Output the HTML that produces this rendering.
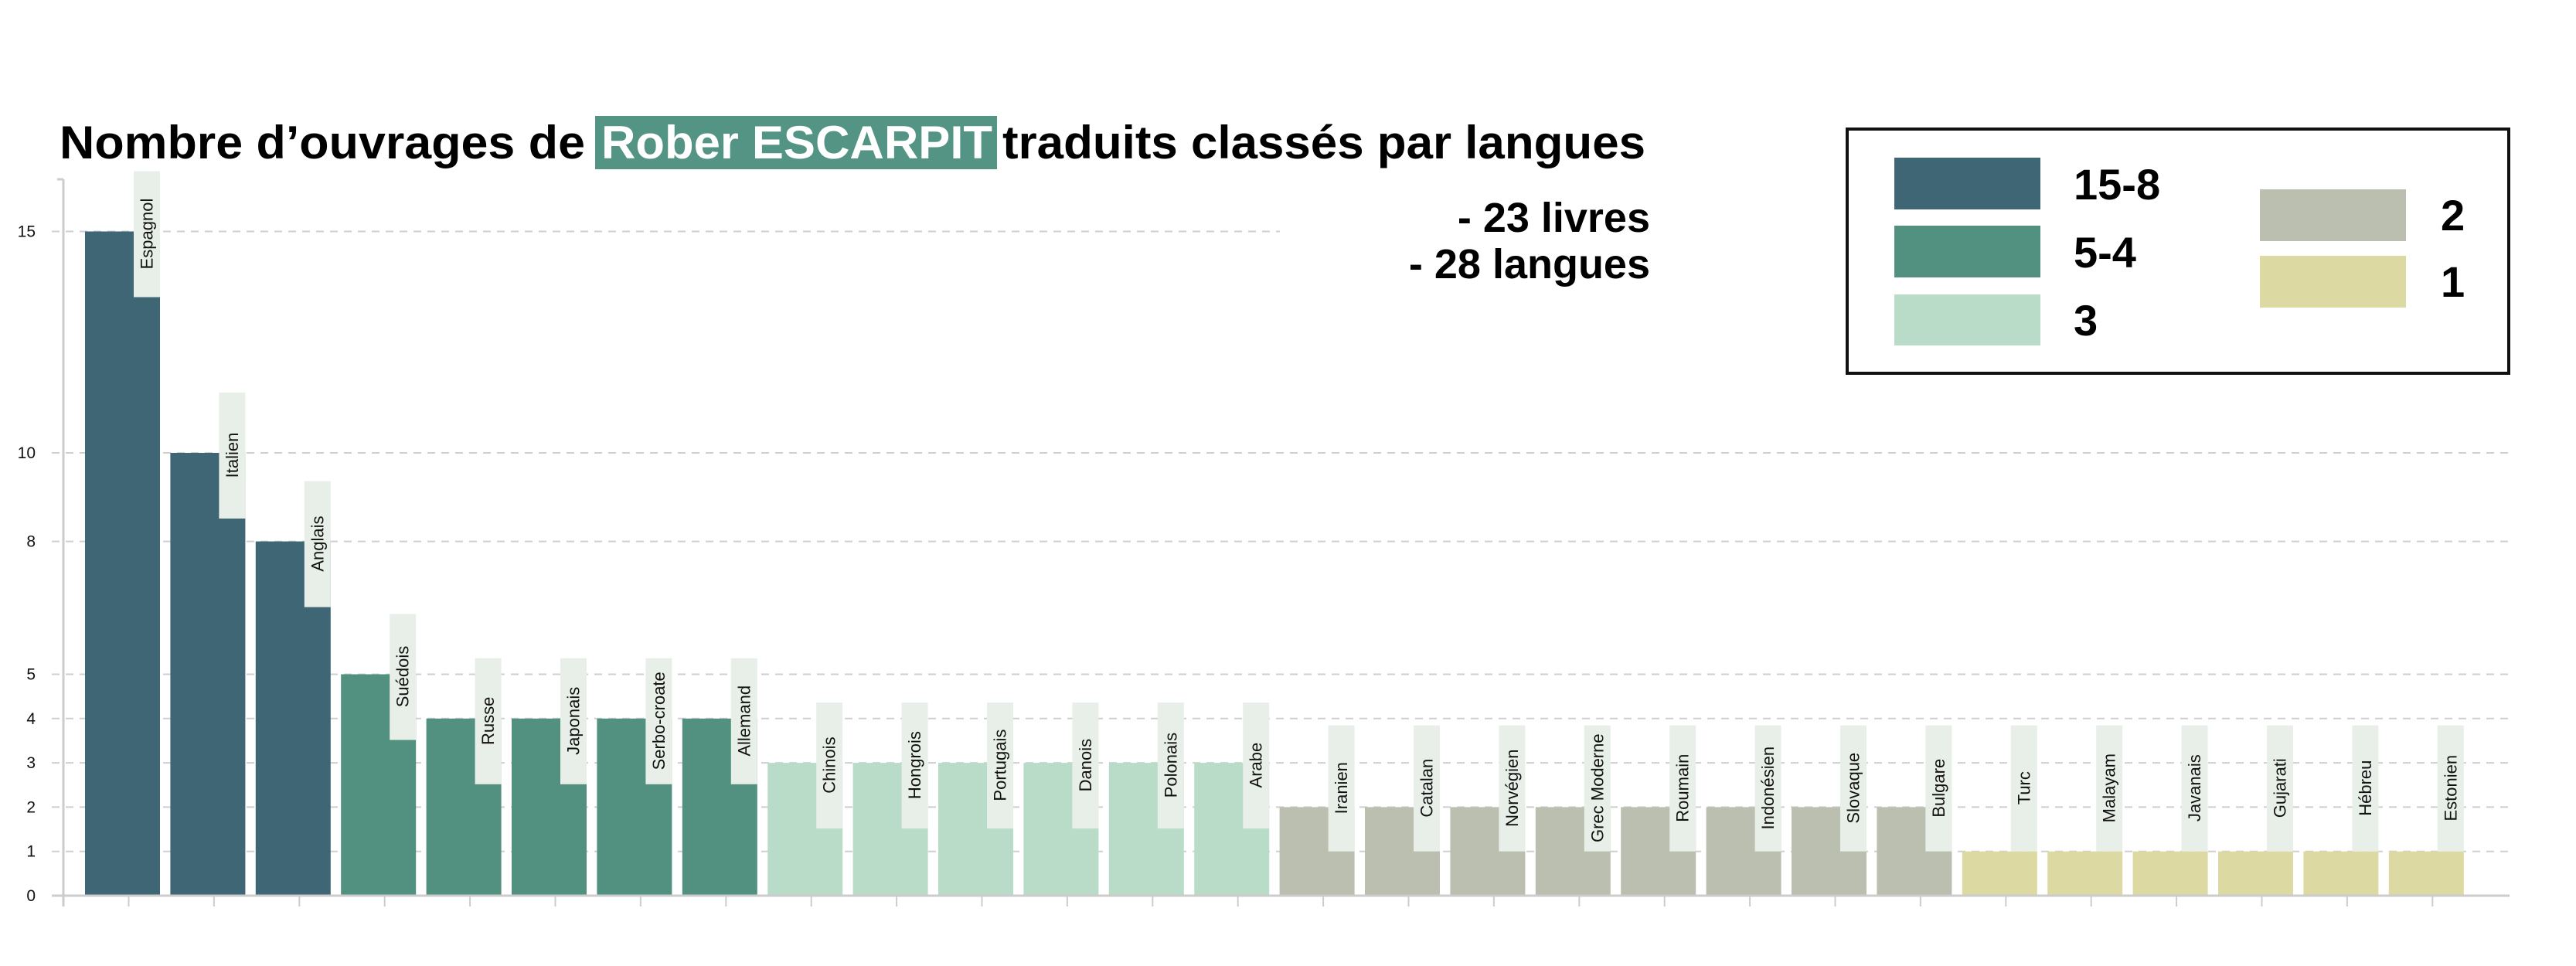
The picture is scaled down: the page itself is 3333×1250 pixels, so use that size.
<!DOCTYPE html>
<html><head><meta charset="utf-8"><style>
html,body{margin:0;padding:0;background:#fff;}
svg{display:block;font-family:"Liberation Sans",sans-serif;}
</style></head><body>
<svg id="chart" width="3333" height="1250" viewBox="0 0 3333 1250" xmlns="http://www.w3.org/2000/svg">
<g font-weight="bold">
<text x="77" y="205" font-size="60" fill="#000" textLength="680" lengthAdjust="spacingAndGlyphs">Nombre d’ouvrages de</text>
<rect x="770" y="150" width="520" height="69" fill="#549485"/>
<text x="778" y="205" font-size="60" fill="#fff" textLength="506" lengthAdjust="spacingAndGlyphs">Rober ESCARPIT</text>
<text x="1297" y="205" font-size="60" fill="#000" textLength="832" lengthAdjust="spacingAndGlyphs">traduits classés par langues</text>
</g>
<text x="2135" y="300" font-size="54" font-weight="bold" text-anchor="end">- 23 livres</text>
<text x="2135" y="360" font-size="54" font-weight="bold" text-anchor="end">- 28 langues</text>
<g id="grid"></g>
<g id="bars"></g>
<g id="axes"></g>
<g font-weight="bold">
<rect x="2390" y="167" width="856" height="316" fill="#fff" stroke="#111" stroke-width="4"/>
<rect x="2451" y="204" width="189" height="67" fill="#3e6674"/>
<text x="2683" y="258" font-size="56">15-8</text>
<rect x="2451" y="292" width="189" height="67" fill="#52917f"/>
<text x="2683" y="346" font-size="56">5-4</text>
<rect x="2451" y="381" width="189" height="66" fill="#b8dcc8"/>
<text x="2683" y="434" font-size="56">3</text>
<rect x="2924" y="245" width="189" height="67" fill="#bbbfaf"/>
<text x="3158" y="298" font-size="56">2</text>
<rect x="2924" y="331" width="189" height="67" fill="#dcdaa2"/>
<text x="3158" y="384" font-size="56">1</text>
</g>
</svg>
<script>
const categories = ["Espagnol","Italien","Anglais","Suédois","Russe","Japonais","Serbo-croate","Allemand","Chinois","Hongrois","Portugais","Danois","Polonais","Arabe","Iranien","Catalan","Norvégien","Grec Moderne","Roumain","Indonésien","Slovaque","Bulgare","Turc","Malayam","Javanais","Gujarati","Hébreu","Estonien"];
const values = [15,10,8,5,4,4,4,4,3,3,3,3,3,3,2,2,2,2,2,2,2,2,1,1,1,1,1,1];
const yTicks = [0,1,2,3,4,5,8,10,15];

const NS="http://www.w3.org/2000/svg";
const X0=82, XEND=3247, BASE=1159, UNIT=57.3, FIRST=110, PITCH=110.4, BW=97;
function yS(v){return BASE-v*UNIT;}
function xS(i){return FIRST+i*PITCH;}
function color(v){return v>=8?"#3e6674":v>=4?"#52917f":v>=3?"#b8dcc8":v>=2?"#bbbfaf":"#dcdaa2";}
function mk(tag,attrs,parent){const e=document.createElementNS(NS,tag);for(const k in attrs)e.setAttribute(k,attrs[k]);parent.appendChild(e);return e;}

const grid=document.getElementById('grid'), bars=document.getElementById('bars'), axes=document.getElementById('axes');
yTicks.forEach(t=>{
  if(t>0){
    const l=mk('line',{x1:X0-15,x2:(t===15?1656:XEND),y1:yS(t),y2:yS(t),stroke:'#cfcfcf','stroke-width':2,'stroke-dasharray':'10,8'},grid);
    
    
  }
  const tx=mk('text',{x:46,y:yS(t)+7,'font-size':21,'text-anchor':'end',fill:'#111'},axes);
  tx.textContent=t;
  
  
});
values.forEach((v,i)=>{
  const x=xS(i), top=yS(v);
  const r=mk('rect',{x:x,y:top,width:BW,height:BASE-top,fill:color(v)},bars);
  
  
  const bottom=Math.min(top+85, yS(1));
  const bx=x+BW-34, by=bottom-163;
  const b=mk('rect',{x:bx,y:by,width:34,height:163,fill:'#e8efe9'},bars);
  
  
  const cx=bx+17, cy=by+81;
  const t=mk('text',{x:cx,y:cy,'font-size':22,'text-anchor':'middle','dominant-baseline':'central',transform:`rotate(-90 ${cx} ${cy})`,fill:'#111'},bars);
  t.textContent=categories[i];
  
  
  const tk=mk('line',{x1:x+BW/2+8,x2:x+BW/2+8,y1:BASE,y2:BASE+14,stroke:'#ccc','stroke-width':2},axes);
  
  
});
const ya=mk('line',{x1:X0,x2:X0,y1:232,y2:BASE+14,stroke:'#ccc','stroke-width':3},axes);


const xa=mk('line',{x1:X0-15,x2:XEND,y1:BASE,y2:BASE,stroke:'#ccc','stroke-width':3},axes);


const yt=mk('line',{x1:X0-8,x2:X0,y1:232,y2:232,stroke:'#ccc','stroke-width':3},axes);


</script>
</body></html>
